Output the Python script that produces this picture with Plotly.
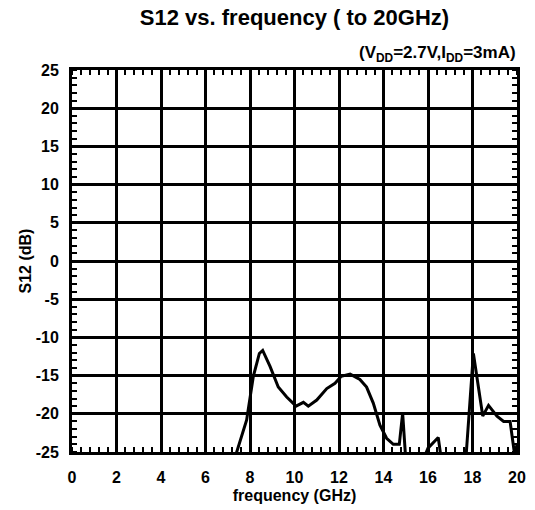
import plotly.graph_objects as go

freq_ghz = [7.2, 7.85, 8.15, 8.42, 8.57, 8.9, 9.27, 9.65, 10.07, 10.4, 10.62, 11.0,
            11.45, 11.82, 12.1, 12.5, 12.94, 13.24, 13.54, 13.84, 14.14, 14.44, 14.71,
            14.86, 15.0, 15.5, 16.0, 16.46, 16.6, 17.2, 17.7, 18.04, 18.46, 18.72,
            19.1, 19.4, 19.69, 19.9, 20.0]
s12_db = [-26.9, -20.8, -15.1, -12.1, -11.7, -13.8, -16.5, -17.8, -19.0, -18.5, -19.0, -18.2,
          -16.7, -16.0, -15.1, -14.8, -15.5, -16.5, -18.6, -21.5, -23.2, -24.0, -24.0,
          -19.9, -26.0, -28.0, -24.5, -23.1, -26.0, -28.0, -26.0, -12.1, -20.3, -18.9,
          -20.3, -21.0, -21.0, -25.5, -24.0]

x_ticks = [0, 2, 4, 6, 8, 10, 12, 14, 16, 18, 20]
y_ticks = [25, 20, 15, 10, 5, 0, -5, -10, -15, -20, -25]

FONT = "Liberation Sans, Arial, sans-serif"

fig = go.Figure()
fig.add_trace(go.Scatter(x=freq_ghz, y=s12_db, mode="lines",
                         line=dict(color="black", width=3), showlegend=False,
                         hoverinfo="skip"))

axis_common = dict(
    showline=True, linecolor="black", linewidth=3, mirror="allticks",
    showgrid=True, gridcolor="black", gridwidth=2.5,
    ticks="", zeroline=False, automargin=False,
    tickfont=dict(family=FONT, size=16, color="black", weight="bold"),
)

fig.update_xaxes(range=[0, 20], tickvals=x_ticks, ticktext=[str(v) for v in x_ticks],
                 ticklabelstandoff=9,
                 minor=dict(dtick=0.4, tick0=0, ticks="inside", ticklen=5,
                            tickwidth=2, tickcolor="black", showgrid=False),
                 title=dict(text="frequency (GHz)", standoff=5,
                            font=dict(family=FONT, size=16, color="black", weight="bold")),
                 **axis_common)
fig.update_yaxes(range=[-25, 25], tickvals=y_ticks, ticktext=[str(v) for v in y_ticks],
                 ticklabelstandoff=7,
                 minor=dict(dtick=1, tick0=0, ticks="inside", ticklen=5,
                            tickwidth=2, tickcolor="black", showgrid=False),
                 title=dict(text="S12 (dB)", standoff=1,
                            font=dict(family=FONT, size=16, color="black", weight="bold")),
                 **axis_common)

fig.update_layout(
    width=535, height=510,
    margin=dict(l=72, r=18, t=70, b=58, autoexpand=False),
    paper_bgcolor="white", plot_bgcolor="white",
    font=dict(family=FONT, color="black"),
    title=dict(text="S12 vs. frequency ( to 20GHz)", x=0.5, xref="paper",
               y=1 - 17 / 510, yref="container", xanchor="center", yanchor="middle",
               automargin=False,
               font=dict(family=FONT, size=22, color="black", weight="bold")),
)
fig.add_annotation(text="(V<sub>DD</sub>=2.7V,I<sub>DD</sub>=3mA)",
                   xref="paper", yref="paper", x=1.002, y=1.042,
                   xanchor="right", yanchor="middle", showarrow=False,
                   font=dict(family=FONT, size=17, color="black", weight="bold"))

fig.write_html("out.html", config={"displayModeBar": False},
               post_script="document.body.style.margin='0';")
